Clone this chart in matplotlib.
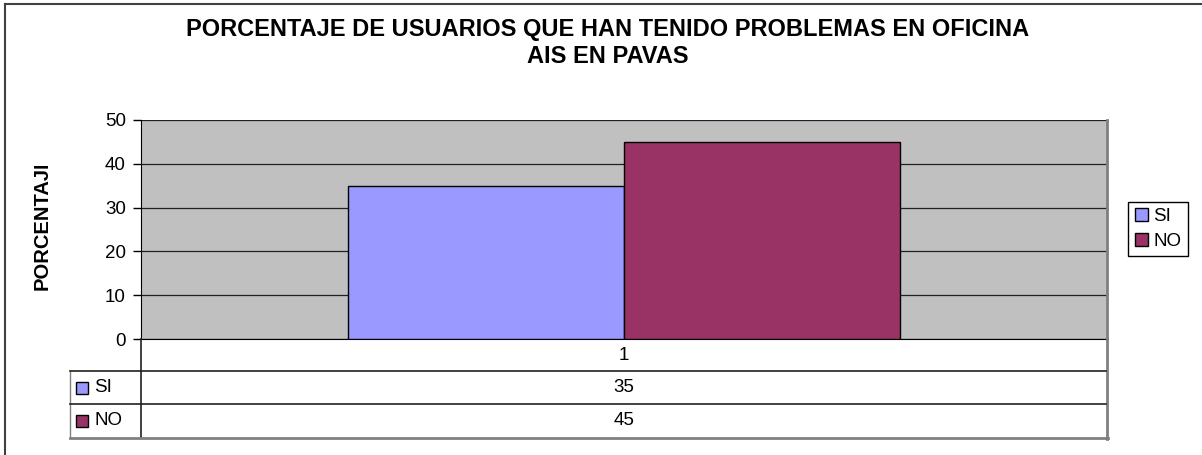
import matplotlib
matplotlib.use('Agg')
import matplotlib.pyplot as plt
from matplotlib.patches import Rectangle
from matplotlib.lines import Line2D

plt.rcParams['font.family'] = ['Liberation Sans', 'DejaVu Sans']

# data
series = ['SI', 'NO']
values = [35, 45]
category = '1'
colors = ['#9999FF', '#993366']
yticks = [0, 10, 20, 30, 40, 50]

W, H = 1202, 455
fig = plt.figure(figsize=(W / 100, H / 100), dpi=100)


def fx(x):
    return x / W


def fy(y):
    return 1 - y / H


# outer frame (top and left visible)
fig.add_artist(Line2D([fx(5), fx(1202)], [fy(4), fy(4)], color='#404040', lw=1.5))
fig.add_artist(Line2D([fx(5), fx(5)], [fy(4), fy(455)], color='#404040', lw=1.5))

fig.text(fx(608), fy(43), 'PORCENTAJE DE USUARIOS QUE HAN TENIDO PROBLEMAS EN OFICINA\nAIS EN PAVAS',
         ha='center', va='center', fontsize=17, fontweight='bold', linespacing=1.2)

ax = fig.add_axes([fx(141), fy(339), fx(1107 - 141), (339 - 120) / H])
ax.set_facecolor('#C0C0C0')
ax.set_xlim(-0.5, 0.5)
ax.set_ylim(0, 50)
ax.set_yticks(yticks)
ax.tick_params(axis='y', length=6, width=1, labelsize=13.5, pad=5)
ax.set_xticks([])
ax.yaxis.grid(True, color='#202020', lw=0.9)
ax.set_axisbelow(True)
for s in ['left', 'bottom']:
    ax.spines[s].set_color('black')
ax.spines['top'].set_visible(False)
ax.spines['right'].set_color('#808080')
ax.spines['right'].set_linewidth(2)

bw = 0.286
for i, (name, v, c) in enumerate(zip(series, values, colors)):
    x0 = -bw / 2 if i == 0 else bw / 2
    ax.bar(x0, v, width=bw, color=c, edgecolor='black', lw=1, label=name, zorder=3)

# y label (clipped at the top like the original)
lbl = fig.text(fx(42), fy(290), 'PORCENTAJE', rotation=90, ha='center', va='bottom',
               fontsize=14.5, fontweight='bold')
clip = Rectangle((fx(0), fy(455)), fx(100), fy(166) - fy(455), transform=fig.transFigure,
                 visible=False)
fig.add_artist(clip)
lbl.set_clip_path(clip)

# data table below the plot
rows_y = [339, 371, 404, 437]
tl = dict(color='#202020', lw=1.2)
fig.add_artist(Line2D([fx(141), fx(141)], [fy(339), fy(437)], **tl))
fig.add_artist(Line2D([fx(1107), fx(1107)], [fy(339), fy(439)], color='#808080', lw=2))
fig.add_artist(Line2D([fx(70), fx(70)], [fy(371), fy(437)], color='#808080', lw=1))
for y in rows_y[1:3]:
    fig.add_artist(Line2D([fx(70), fx(1106)], [fy(y), fy(y)], **tl))
fig.add_artist(Line2D([fx(70), fx(1108)], [fy(438), fy(438)], color='#808080', lw=2))

fig.text(fx(624), fy(355), category, ha='center', va='center', fontsize=13.5)
for i, (name, v, c) in enumerate(zip(series, values, colors)):
    yc = (rows_y[i + 1] + rows_y[i + 2]) / 2
    fig.text(fx(624), fy(yc), str(v), ha='center', va='center', fontsize=13.5)
    fig.add_artist(Rectangle((fx(76), fy(yc + 6)), fx(12), fy(yc - 6) - fy(yc + 6),
                             transform=fig.transFigure, facecolor=c, edgecolor='black', lw=1))
    fig.text(fx(94), fy(yc), name, ha='left', va='center', fontsize=13.5)

# legend on the right
leg = ax.legend(loc='center left', bbox_to_anchor=(fx(1128), fy(229)),
                bbox_transform=fig.transFigure, fancybox=False, edgecolor='black',
                framealpha=1, fontsize=13.5, handlelength=0.7, handleheight=0.7,
                handletextpad=0.3, borderpad=0.35, labelspacing=0.4, borderaxespad=0)
leg.get_frame().set_linewidth(1)

fig.savefig('out.png', dpi=100)
